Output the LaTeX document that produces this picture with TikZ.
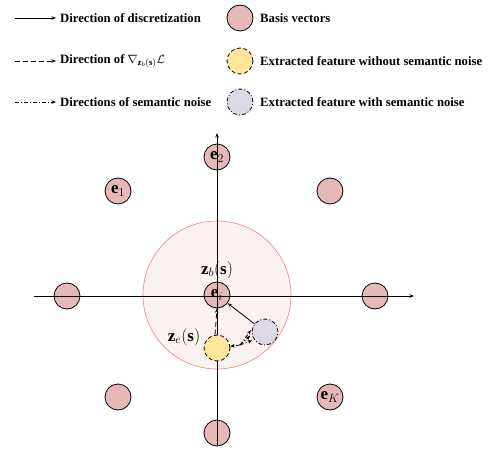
\documentclass[tikz,border=0pt]{standalone}
\usepackage{fontspec}
\setmainfont{Liberation Serif}
\usetikzlibrary{arrows.meta}

\definecolor{basisred}{RGB}{230,185,184}
\definecolor{regionred}{RGB}{251,241,241}
\definecolor{regionedge}{RGB}{226,135,130}
\definecolor{featyellow}{RGB}{255,230,153}
\definecolor{featpurple}{RGB}{220,216,230}

\tikzset{
  basis/.style={circle, draw, fill=basisred, minimum size=26pt, inner sep=0pt, line width=0.8pt, font=\fontsize{17}{20}\selectfont},
  cleanfeat/.style={circle, draw, fill=featyellow, minimum size=26pt, inner sep=0pt, line width=0.8pt, dash pattern=on 4pt off 2.5pt},
  noisyfeat/.style={circle, draw, fill=featpurple, minimum size=26pt, inner sep=0pt, line width=0.8pt, dash pattern=on 4pt off 2pt on 1pt off 2pt},
  legtext/.style={anchor=west, inner sep=0pt, font=\fontsize{12.7}{15}\selectfont\bfseries},
  featlabel/.style={inner sep=0pt, font=\fontsize{17}{20}\selectfont},
  vec/.style={line width=0.8pt, -{Stealth[length=4.5pt, width=3.5pt]}},
  gradline/.style={dash pattern=on 5pt off 3pt},
  noiseline/.style={dash pattern=on 4pt off 2pt on 1pt off 2pt},
}

\begin{document}
\begin{tikzpicture}[x=1pt, y=-1pt]

  %% ==== legend ====
  \coordinate (l1s) at (15,18);  \coordinate (l1e) at (56,18);
  \coordinate (l2s) at (15,61);  \coordinate (l2e) at (56,61);
  \coordinate (l3s) at (15,102); \coordinate (l3e) at (56,102);
  \draw[vec] (l1s) -- (l1e);
  \draw[vec, gradline] (l2s) -- (l2e);
  \draw[vec, noiseline] (l3s) -- (l3e);
  \node[legtext] (t1) at (60,18)  {Direction of discretization};
  \node[legtext] (t2) at (60,61)  {Direction of $\nabla_{\mathbf{z}_b(\mathbf{s})}\mathcal{L}$};
  \node[legtext] (t3) at (60,102) {Directions of semantic noise};

  \node[basis]     (lb) at (240,18)  {};
  \node[cleanfeat] (ly) at (240,61)  {};
  \node[noisyfeat] (lp) at (240,102) {};
  \node[legtext] (t4) at (260,18)  {Basis vectors};
  \node[legtext] (t5) at (260,61)  {Extracted feature without semantic noise};
  \node[legtext] (t6) at (260,102) {Extracted feature with semantic noise};

  %% ==== decision region ====
  \node[circle, draw=regionedge, fill=regionred, line width=0.6pt, minimum size=148pt, inner sep=0pt] (ball) at (217,295) {};

  %% ==== basis vectors ====
  \node[basis] (e2) at (217,157) {$\mathbf{e}_2$};
  \node[basis] (e1) at (118,191) {$\mathbf{e}_1$};
  \node[basis] (b3) at (330,191) {};
  \node[basis] (b4) at (67,296)  {};
  \node[basis] (ei) at (217,295) {$\mathbf{e}_i$};
  \node[basis] (b5) at (375,296) {};
  \node[basis] (b6) at (118,397) {};
  \node[basis] (eK) at (330,397) {$\mathbf{e}_K$};
  \node[basis] (b7) at (217,433) {};

  %% ==== axes ====
  \coordinate (xl) at (34,296);  \coordinate (xr) at (414,296);
  \coordinate (yb) at (217,445); \coordinate (yt) at (217,133);
  \draw[vec] (xl) -- (xr);
  \draw[vec] (yb) -- (yt);

  %% ==== features ====
  \node[cleanfeat] (ze) at (217,348) {};
  \node[noisyfeat] (zn) at (265,332) {};
  \node[featlabel] (zbl) at (217,270) {$\mathbf{z}_b(\mathbf{s})$};
  \node[featlabel] (zel) at (184,337) {$\mathbf{z}_e(\mathbf{s})$};

  \draw[vec] (zn) -- (ei);
  \draw[vec, gradline] ([xshift=-2pt]ze.north) -- (ei.south);
  \coordinate (ns) at (240,345);
  \draw[vec, noiseline] (ns) -- (ze);
  \foreach \a in {165,190,215}
    \draw[vec, noiseline, shorten >=2pt] (ns) -- (zn.\a);

  \pgfresetboundingbox
  \path[use as bounding box] (0,0) rectangle (492,457);
\end{tikzpicture}
\end{document}
